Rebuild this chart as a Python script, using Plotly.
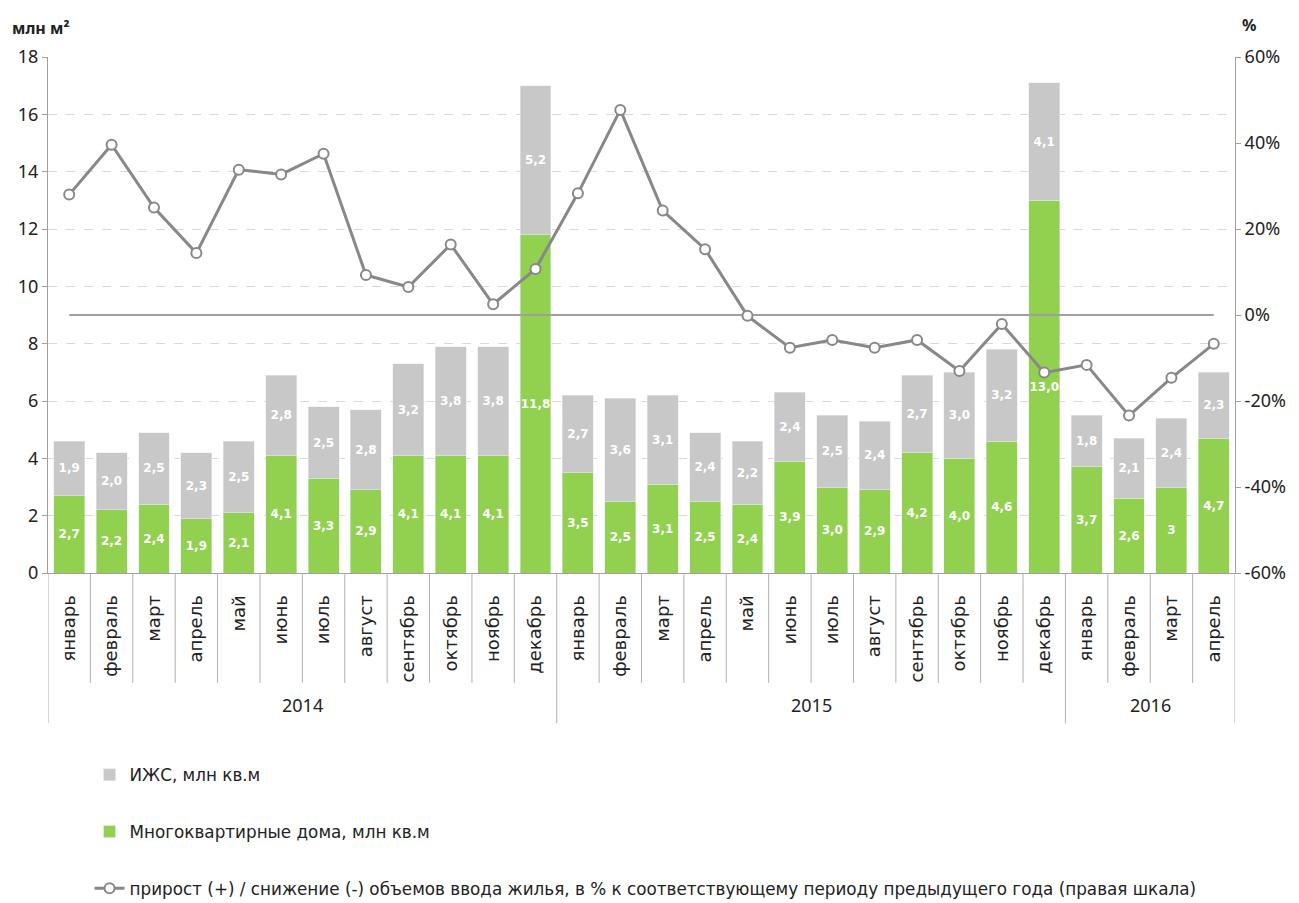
import plotly.graph_objects as go

months = ["январь", "февраль", "март", "апрель", "май", "июнь", "июль", "август",
          "сентябрь", "октябрь", "ноябрь", "декабрь",
          "январь", "февраль", "март", "апрель", "май", "июнь", "июль", "август",
          "сентябрь", "октябрь", "ноябрь", "декабрь",
          "январь", "февраль", "март", "апрель"]
years = ["2014"] * 12 + ["2015"] * 12 + ["2016"] * 4

mkd = [2.7, 2.2, 2.4, 1.9, 2.1, 4.1, 3.3, 2.9, 4.1, 4.1, 4.1, 11.8,
       3.5, 2.5, 3.1, 2.5, 2.4, 3.9, 3.0, 2.9, 4.2, 4.0, 4.6, 13.0,
       3.7, 2.6, 3.0, 4.7]
mkd_text = ["2,7", "2,2", "2,4", "1,9", "2,1", "4,1", "3,3", "2,9", "4,1", "4,1", "4,1", "11,8",
            "3,5", "2,5", "3,1", "2,5", "2,4", "3,9", "3,0", "2,9", "4,2", "4,0", "4,6", "13,0",
            "3,7", "2,6", "3", "4,7"]
izhs = [1.9, 2.0, 2.5, 2.3, 2.5, 2.8, 2.5, 2.8, 3.2, 3.8, 3.8, 5.2,
        2.7, 3.6, 3.1, 2.4, 2.2, 2.4, 2.5, 2.4, 2.7, 3.0, 3.2, 4.1,
        1.8, 2.1, 2.4, 2.3]
izhs_text = ["1,9", "2,0", "2,5", "2,3", "2,5", "2,8", "2,5", "2,8", "3,2", "3,8", "3,8", "5,2",
             "2,7", "3,6", "3,1", "2,4", "2,2", "2,4", "2,5", "2,4", "2,7", "3,0", "3,2", "4,1",
             "1,8", "2,1", "2,4", "2,3"]
growth = [28.0, 39.6, 25.0, 14.4, 33.8, 32.7, 37.5, 9.3, 6.5, 16.4, 2.5, 10.7,
          28.3, 47.7, 24.3, 15.3, -0.2, -7.6, -5.8, -7.6, -5.8, -13.0, -2.1, -13.4,
          -11.6, -23.4, -14.6, -6.7]

y_ticks = [0, 2, 4, 6, 8, 10, 12, 14, 16, 18]
y2_ticks = [-60, -40, -20, 0, 20, 40, 60]
y2_labels = ["-60%", "-40%", "-20%", "0%", "20%", "40%", "60%"]

x = list(range(len(months)))

GREEN = "#92d050"
GREY = "#c8c8c8"
LINE = "#888888"
FONT = "DejaVu Sans"
NUMFONT = "Noto Sans"

fig = go.Figure()
fig.add_trace(go.Bar(
    x=x, y=mkd, name="Многоквартирные дома, млн кв.м", marker_color=GREEN,
    text=mkd_text, textposition="inside", insidetextanchor="middle", textangle=0,
    constraintext="none",
    textfont=dict(color="white", size=12, family=FONT, weight="bold"),
    legendgroup="b", legendrank=2,
))
fig.add_trace(go.Bar(
    x=x, y=izhs, name="ИЖС, млн кв.м", marker_color=GREY,
    text=izhs_text, textposition="inside", insidetextanchor="middle", textangle=0,
    constraintext="none",
    textfont=dict(color="white", size=12, family=FONT, weight="bold"),
    legendgroup="a", legendrank=1,
))
fig.add_trace(go.Scatter(
    x=x, y=[0] * len(x), yaxis="y2", mode="lines",
    line=dict(color="#a0a0a0", width=2), showlegend=False, hoverinfo="skip",
))
fig.add_trace(go.Scatter(
    x=x, y=growth, yaxis="y2", mode="lines+markers",
    name="прирост (+) / снижение (-) объемов ввода жилья, в % к соответствующему периоду предыдущего года (правая шкала)",
    line=dict(color=LINE, width=3),
    marker=dict(size=10, color="white", line=dict(color=LINE, width=2)),
    legendgroup="c", legendrank=3,
))

# divider lines under the category axis
shapes = []
for i in range(len(x) + 1):
    boundary = i - 0.5
    is_year = i == 0 or i == len(x) or years[i] != years[i - 1]
    shapes.append(dict(type="line", xref="x", yref="paper",
                       x0=boundary, x1=boundary, y0=0,
                       y1=-0.291 if is_year else -0.213,
                       line=dict(color="#b0b0b0", width=1)))

annotations = []
for yr in ["2014", "2015", "2016"]:
    idx = [i for i, v in enumerate(years) if v == yr]
    annotations.append(dict(x=sum(idx) / len(idx), y=-0.256, xref="x", yref="paper",
                            yanchor="middle", text=yr, showarrow=False,
                            font=dict(size=18, color="#222", family=NUMFONT)))
annotations.append(dict(x=-0.032, y=1.056, xref="paper", yref="paper",
                        xanchor="left", yanchor="middle",
                        text="<b>млн м²</b>", showarrow=False,
                        font=dict(size=16, color="#222", family=NUMFONT)))
annotations.append(dict(x=1.019, y=1.062, xref="paper", yref="paper", yanchor="middle",
                        text="<b>%</b>", showarrow=False,
                        font=dict(size=16, color="#222", family=NUMFONT)))

fig.update_layout(
    width=1299, height=903,
    margin=dict(l=48, r=64, t=57, b=330, autoexpand=False),
    paper_bgcolor="white", plot_bgcolor="white",
    barmode="stack", bargap=0.27,
    showlegend=True,
    legend=dict(x=0.035, y=-0.357, xanchor="left", yanchor="top",
                orientation="v", traceorder="grouped", tracegroupgap=32,
                font=dict(size=16.8, color="#222", family=FONT)),
    xaxis=dict(range=[-0.5, len(x) - 0.5], tickmode="array", tickvals=x, ticktext=months,
               tickangle=-90, ticks="", showgrid=False, zeroline=False,
               showline=True, linecolor="#a0a0a0", linewidth=1,
               ticklabelstandoff=14,
               tickfont=dict(size=18, color="#222", family=FONT)),
    yaxis=dict(range=[0, 18], tickmode="array", tickvals=y_ticks,
               showgrid=True, gridcolor="#d9d9d9", griddash="dash", gridwidth=1,
               zeroline=False, showline=True, linecolor="#a0a0a0", linewidth=1,
               ticks="outside", ticklen=5, tickcolor="#a0a0a0",
               tickfont=dict(size=18, color="#222", family=NUMFONT)),
    yaxis2=dict(range=[-60, 60], tickmode="array", tickvals=y2_ticks, ticktext=y2_labels,
                overlaying="y", side="right",
                showgrid=False, zeroline=False, showline=True, linecolor="#a0a0a0", linewidth=1,
                ticks="outside", ticklen=5, tickcolor="#a0a0a0",
                tickfont=dict(size=18, color="#222", family=NUMFONT)),
    shapes=shapes, annotations=annotations,
)

fig.write_html("out.html")
